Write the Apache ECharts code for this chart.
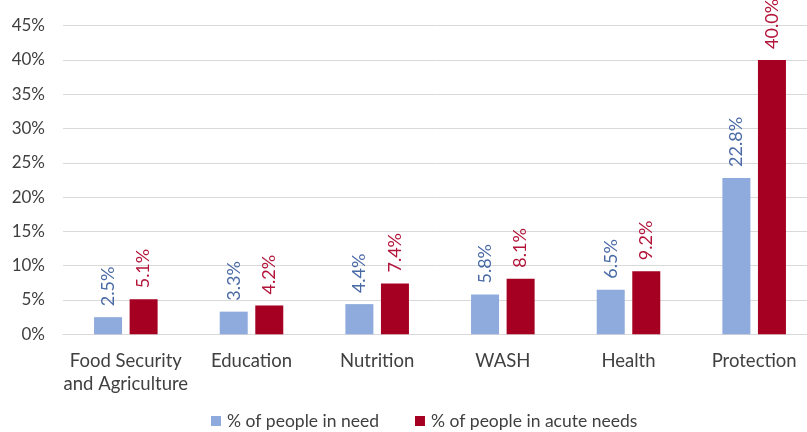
<!DOCTYPE html>
<html>
<head>
<meta charset="utf-8">
<script src="https://cdn.jsdelivr.net/npm/echarts@6/dist/echarts.min.js"></script>
<style>
  html, body { margin: 0; padding: 0; background: #fff; }
  #chart { width: 807px; height: 432px; }
</style>
</head>
<body>
<div id="chart"></div>
<script>
// Sectors and the share of people in need per sector (percent)
const categories = ['Food Security\nand Agriculture', 'Education', 'Nutrition', 'WASH', 'Health', 'Protection'];
const inNeed = [2.5, 3.3, 4.4, 5.8, 6.5, 22.8];
const acuteNeeds = [5.1, 4.2, 7.4, 8.1, 9.2, 40.0];
const seriesNames = ['% of people in need', '% of people in acute needs'];

const FONT = 'Lato, "Open Sans", sans-serif';
const chart = echarts.init(document.getElementById('chart'), null, { renderer: 'canvas' });

function labelFor(color) {
  return {
    show: true,
    position: 'top',
    rotate: 90,
    align: 'left',
    verticalAlign: 'middle',
    distance: 11,
    color: color,
    fontFamily: FONT,
    fontSize: 18,
    formatter: p => p.value.toFixed(1) + '%'
  };
}

chart.setOption({
  animation: false,
  textStyle: { fontFamily: FONT },
  // plot area runs slightly past the right edge of the canvas
  grid: {
    left: 63, width: 754, top: 25.6, bottom: 97.7,
    containLabel: false,
    outerBoundsMode: 'none'
  },
  legend: {
    top: 407,
    left: 206,
    itemWidth: 10,
    itemHeight: 10,
    itemGap: 36,
    icon: 'rect',
    textStyle: { fontFamily: FONT, fontSize: 17.5, color: '#404040', padding: [0, 0, 0, 1] },
    data: seriesNames
  },
  xAxis: {
    type: 'category',
    data: categories,
    axisLine: { show: true, lineStyle: { color: '#d9d9d9', width: 1 } },
    axisTick: { show: false },
    axisLabel: {
      color: '#404040',
      fontFamily: FONT,
      fontSize: 18.5,
      lineHeight: 23,
      margin: 15,
      interval: 0
    }
  },
  yAxis: {
    type: 'value',
    min: 0,
    max: 45,
    interval: 5,
    axisLine: { show: false },
    axisTick: { show: false },
    splitLine: { lineStyle: { color: '#d9d9d9', width: 1 } },
    axisLabel: {
      color: '#404040',
      fontFamily: FONT,
      fontSize: 17,
      margin: 18,
      formatter: v => v + '%'
    }
  },
  series: [
    {
      name: seriesNames[0],
      type: 'bar',
      data: inNeed,
      barWidth: 28,
      barGap: '27%',
      itemStyle: { color: '#8faadc' },
      label: labelFor('#4a6aa6')
    },
    {
      name: seriesNames[1],
      type: 'bar',
      data: acuteNeeds,
      barWidth: 28,
      barGap: '27%',
      itemStyle: { color: '#a50021' },
      label: labelFor('#b3153a')
    }
  ]
});
</script>
</body>
</html>
